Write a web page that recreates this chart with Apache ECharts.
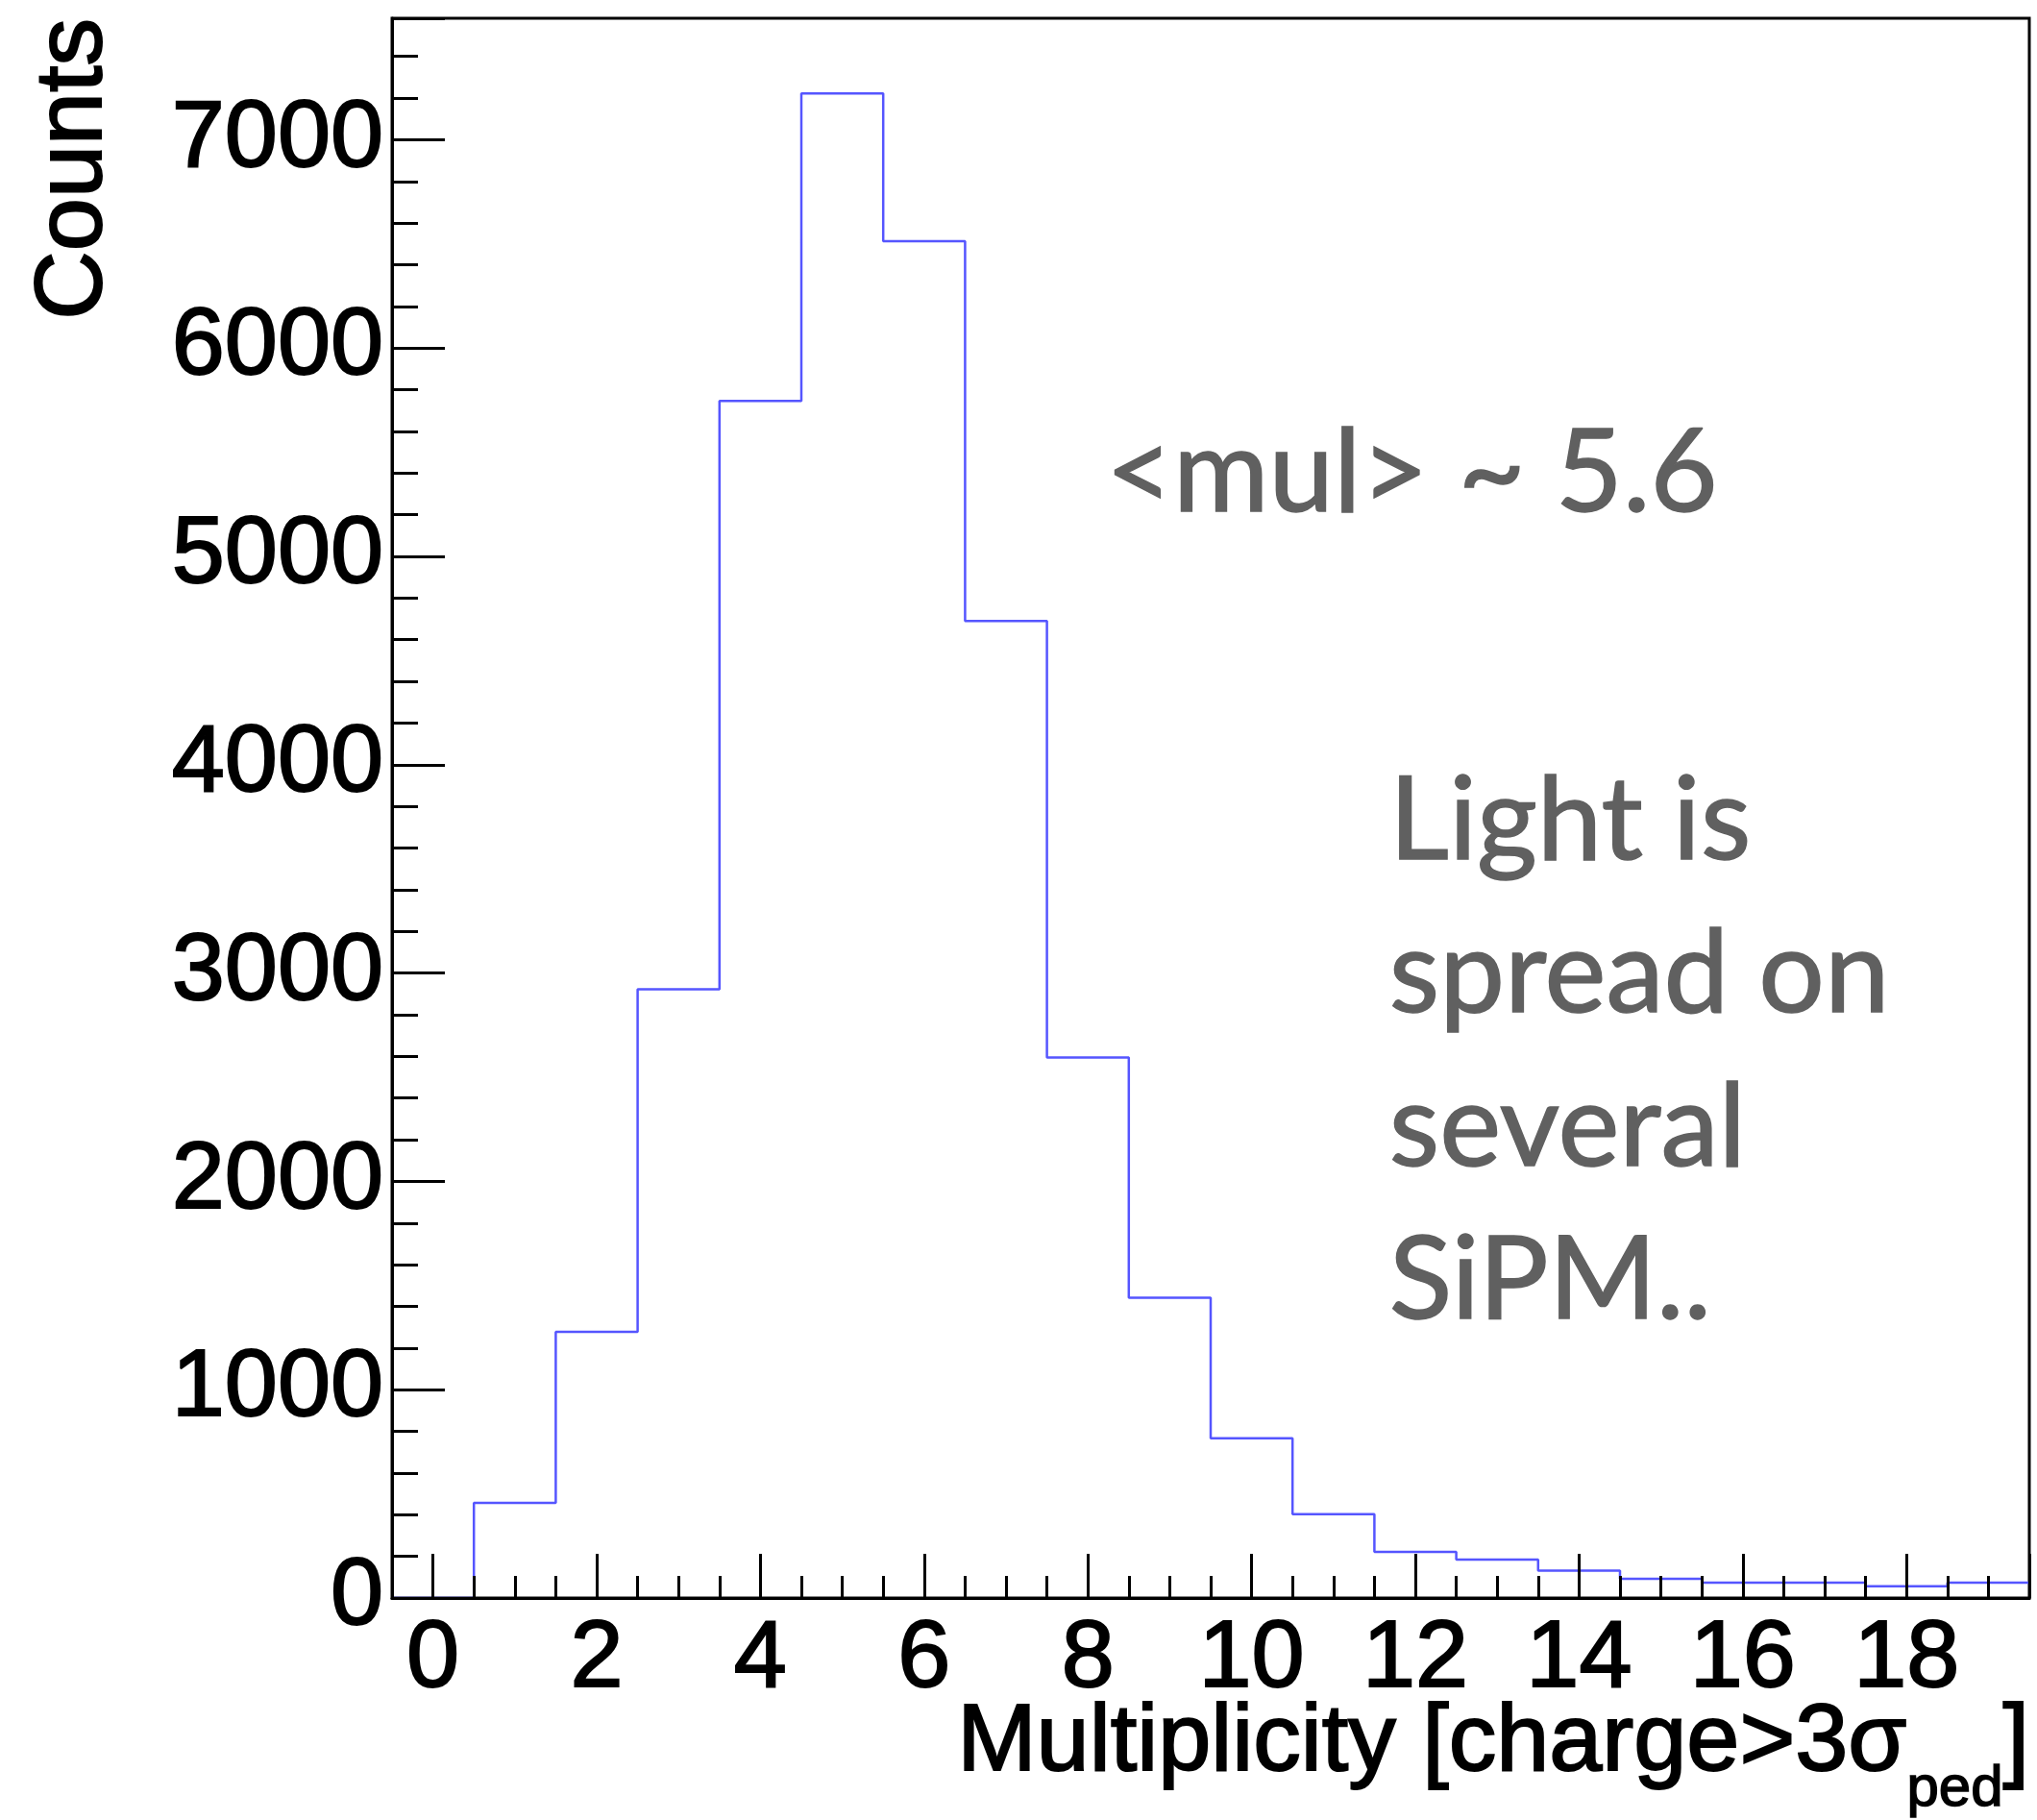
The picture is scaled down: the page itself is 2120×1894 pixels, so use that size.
<!DOCTYPE html>
<html>
<head>
<meta charset="utf-8">
<script src="https://cdn.jsdelivr.net/npm/echarts@6/dist/echarts.min.js"></script>
<style>
  html, body { margin: 0; padding: 0; background: #ffffff; }
  #chart { width: 2120px; height: 1894px; }
</style>
</head>
<body>
<div id="chart"></div>
<script>
// ---- data ----
const binCenters = [0, 1, 2, 3, 4, 5, 6, 7, 8, 9, 10, 11, 12, 13, 14, 15, 16, 17, 18, 19];
const counts     = [0, 457, 1278, 2922, 5746, 7222, 6513, 4690, 2595, 1441, 767, 403, 221, 185, 132, 92, 74, 74, 57, 74];
const xTickLabels = [0, 2, 4, 6, 8, 10, 12, 14, 16, 18];
const yTickLabels = [0, 1000, 2000, 3000, 4000, 5000, 6000, 7000];
const xRange = [-0.5, 19.5];
const yRange = [0, 7583];
const xTitle = 'Multiplicity [charge>3σ';
const xTitleSub = 'ped';
const yTitle = 'Counts';
const noteMean = '<mul> ~ 5.6';
const noteLines = ['Light is', 'spread on', 'several', 'SiPM..'];

// histogram as step line through bin edges
const stepData = counts.map((v, i) => [binCenters[i] - 0.5, v]);
stepData.push([binCenters[binCenters.length - 1] + 0.5, counts[counts.length - 1]]);

const AX_FONT = 'Liberation Sans';
const black = '#000000';
const gray = '#606060';
const heavy = { textBorderColor: black, textBorderWidth: 2 };

const chart = echarts.init(document.getElementById('chart'), null, { renderer: 'canvas' });
chart.setOption({
  animation: false,
  backgroundColor: '#ffffff',
  grid: {
    left: 408, right: 8, top: 19, bottom: 231,
    show: true, borderColor: black, borderWidth: 3, backgroundColor: 'transparent',
    containLabel: false, outerBoundsMode: 'none'
  },
  xAxis: {
    type: 'value', min: xRange[0], max: xRange[1], splitNumber: 10, z: 5,
    axisLine: { show: true, onZero: false, lineStyle: { color: black, width: 3 } },
    axisTick: { show: true, inside: true, length: 46, lineStyle: { color: black, width: 3 } },
    minorTick: { show: true, splitNumber: 4, length: 23, lineStyle: { color: black, width: 3 } },
    splitLine: { show: false },
    axisLabel: Object.assign({
      fontFamily: AX_FONT, fontSize: 99, color: black, margin: 15,
      formatter: v => (xTickLabels.indexOf(Math.round(v * 1000) / 1000) >= 0 ? String(Math.round(v)) : '')
    }, heavy),
    name: '{a|' + xTitle + '}{b|' + xTitleSub + '}{a|]}',
    nameLocation: 'end', nameGap: 0, nameMoveOverlap: false,
    nameTextStyle: {
      align: 'right', verticalAlign: 'top', padding: [102, 0, 0, 0],
      rich: {
        a: Object.assign({ fontFamily: AX_FONT, fontSize: 99, lineHeight: 99, color: black, verticalAlign: 'top' }, heavy),
        b: Object.assign({ fontFamily: AX_FONT, fontSize: 60, lineHeight: 60, color: black, verticalAlign: 'top', padding: [67, 0, 0, 0] }, { textBorderColor: black, textBorderWidth: 1.5 })
      }
    }
  },
  yAxis: {
    type: 'value', min: yRange[0], max: yRange[1], interval: 1000, z: 5,
    axisLine: { show: true, onZero: false, lineStyle: { color: black, width: 3 } },
    axisTick: { show: true, inside: true, length: 55, lineStyle: { color: black, width: 3 } },
    minorTick: { show: true, splitNumber: 5, length: 27, lineStyle: { color: black, width: 3 } },
    splitLine: { show: false },
    axisLabel: Object.assign({
      fontFamily: AX_FONT, fontSize: 99, color: black, margin: 9,
      formatter: v => (yTickLabels.indexOf(Math.round(v)) >= 0 && Math.abs(v - Math.round(v)) < 1e-6 ? String(Math.round(v)) : '')
    }, heavy),
    name: yTitle, nameLocation: 'end', nameGap: 0, nameRotate: 90, nameMoveOverlap: false,
    nameTextStyle: Object.assign({
      fontFamily: AX_FONT, fontSize: 99, lineHeight: 99, color: black,
      align: 'right', verticalAlign: 'bottom', padding: [0, 0, 281, 0]
    }, heavy)
  },
  series: [{
    type: 'line', step: 'end', data: stepData, showSymbol: false, symbol: 'none', z: 2,
    lineStyle: { color: '#5555ff', width: 2.5 }, clip: true
  }],
  graphic: [
    {
      type: 'text', left: 1150, top: 432, z: 10,
      style: { text: noteMean, font: '121px Lato', fill: gray, stroke: gray, lineWidth: 1.5 }
    },
    {
      type: 'text', left: 1445, top: 775, z: 10,
      style: { text: noteLines.join('\n'), font: '121px Lato', lineHeight: 159.5, fill: gray, stroke: gray, lineWidth: 1.5 }
    }
  ]
});
</script>
</body>
</html>
